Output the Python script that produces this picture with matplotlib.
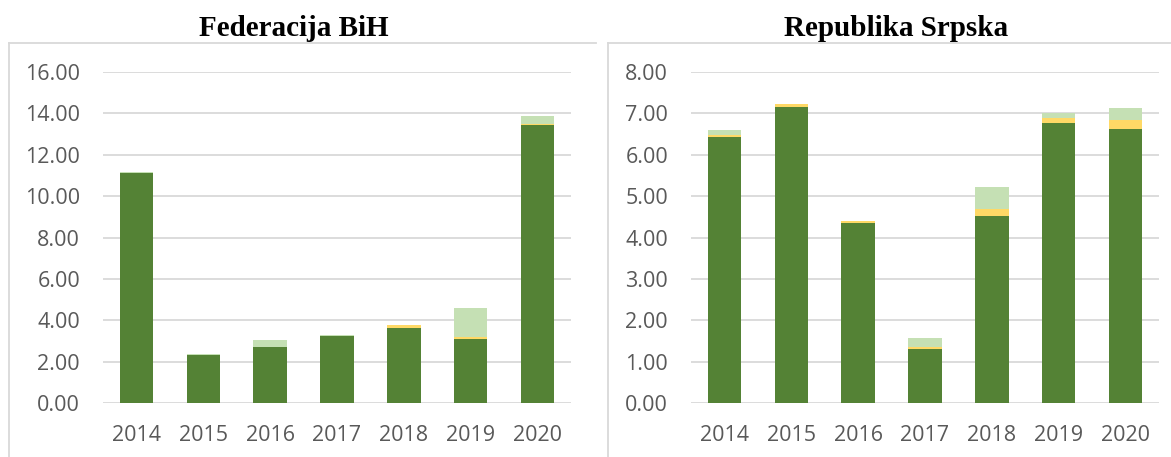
import matplotlib
matplotlib.use("Agg")
import matplotlib.pyplot as plt
from matplotlib.lines import Line2D
import numpy as np

years = ["2014", "2015", "2016", "2017", "2018", "2019", "2020"]

# Federacija BiH
fbih_dark = [11.10, 2.32, 2.72, 3.25, 3.64, 3.08, 13.43]
fbih_yellow = [0.02, 0.00, 0.00, 0.00, 0.12, 0.10, 0.05]
fbih_light = [0.05, 0.04, 0.32, 0.02, 0.03, 1.41, 0.38]

# Republika Srpska
rs_dark = [6.43, 7.16, 4.34, 1.30, 4.52, 6.76, 6.62]
rs_yellow = [0.05, 0.07, 0.05, 0.06, 0.17, 0.13, 0.23]
rs_light = [0.11, 0.00, 0.00, 0.20, 0.53, 0.12, 0.28]

fbih_ticks = [0, 2, 4, 6, 8, 10, 12, 14, 16]
rs_ticks = [0, 1, 2, 3, 4, 5, 6, 7, 8]

C_DARK = "#548235"
C_YEL = "#FFD966"
C_LIGHT = "#C5E0B4"
GRID = "#D9D9D9"
TXT = "#595959"

W, H = 1171, 457
fig = plt.figure(figsize=(W / 100, H / 100), dpi=100)

def px(x0, y0, x1, y1):
    return [x0 / W, 1 - y1 / H, (x1 - x0) / W, (y1 - y0) / H]

def panel(rect, dark, yel, light, ticks, title, title_x):
    ax = fig.add_axes(rect)
    x = np.arange(len(years))
    d = np.array(dark); y = np.array(yel); l = np.array(light)
    ax.bar(x, d, width=0.5, color=C_DARK, zorder=3)
    ax.bar(x, y, width=0.5, bottom=d, color=C_YEL, zorder=3)
    ax.bar(x, l, width=0.5, bottom=d + y, color=C_LIGHT, zorder=3)
    ax.set_xlim(-0.5, len(years) - 0.5)
    ax.set_ylim(0, ticks[-1])
    ax.set_yticks(ticks)
    ax.set_yticklabels([f"{t:.2f}" for t in ticks])
    ax.set_xticks(x)
    ax.set_xticklabels(years)
    ax.grid(axis="y", color=GRID, linewidth=1.3, zorder=0)
    for s in ax.spines.values():
        s.set_visible(False)
    ax.tick_params(axis="both", length=0, labelsize=15.5, colors=TXT)
    ax.tick_params(axis="y", pad=16.5)
    ax.tick_params(axis="x", pad=16)
    for lab in ax.get_xticklabels() + ax.get_yticklabels():
        lab.set_fontfamily("Open Sans")
    fig.text(title_x / W, 1 - 28 / H, title, ha="center", va="center",
             fontsize=21, fontweight="bold", family="Liberation Serif")
    return ax

panel(px(103, 72, 571, 403), fbih_dark, fbih_yellow, fbih_light, fbih_ticks,
      "Federacija BiH", 294)
panel(px(691, 72, 1159, 403), rs_dark, rs_yellow, rs_light, rs_ticks,
      "Republika Srpska", 896)

# chart frames (top and left edges visible)
def frame(x0, x1):
    y0 = 1 - 43 / H
    fig.add_artist(Line2D([x0 / W, x1 / W], [y0, y0], color=GRID, lw=1.3))
    fig.add_artist(Line2D([x0 / W, x0 / W], [0, y0], color=GRID, lw=1.3))

frame(9, 596)
frame(608, 1171)

fig.savefig("out.png", dpi=100)
